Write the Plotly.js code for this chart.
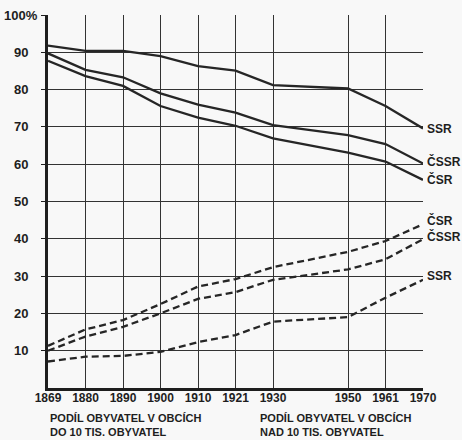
<!DOCTYPE html>
<html>
<head>
<meta charset="utf-8">
<script src="https://cdn.plot.ly/plotly-3.0.1.min.js"></script>
<style>html,body{margin:0;padding:0;background:#f8f8f8;}#chart{width:462px;height:440px;}</style>
</head>
<body>
<div id="chart"></div>
<script>
// Census years (tick labels)
var censusYears = [1869, 1880, 1890, 1900, 1910, 1921, 1930, 1950, 1961, 1970];
var yTickVals = [10, 20, 30, 40, 50, 60, 70, 80, 90, 100];
var yTickText = ['10', '20', '30', '40', '50', '60', '70', '80', '90', '100%'];

// Share of population in municipalities up to 10 thousand inhabitants (%)
var smallSSR  = [91.8, 90.4, 90.4, 89.0, 86.3, 85.1, 81.2, 80.3, 75.6, 69.6];
var smallCSSR = [89.7, 85.3, 83.3, 79.0, 76.0, 73.8, 70.5, 67.8, 65.4, 60.2];
var smallCSR  = [87.7, 83.6, 81.0, 75.6, 72.5, 70.3, 66.9, 63.1, 60.7, 55.8];

// Share of population in municipalities over 10 thousand inhabitants (%)
var largeCSR  = [11.3, 15.7, 18.2, 22.5, 27.2, 29.2, 32.4, 36.5, 39.4, 43.9];
var largeCSSR = [10.0, 13.8, 16.4, 20.0, 23.9, 25.7, 29.0, 31.8, 34.5, 39.9];
var largeSSR  = [7.1, 8.4, 8.6, 9.7, 12.3, 14.2, 17.8, 19.0, 24.2, 29.0];

// the chart places census years on an evenly spaced decade grid
var xPos = censusYears.map(function (y) { return Math.round(y / 10) * 10; });

var lineColor = '#262626';
function solid(vals, name) {
  return {x: xPos, y: vals, name: name, mode: 'lines', type: 'scatter',
          line: {color: lineColor, width: 2.3}, hoverinfo: 'skip'};
}
function dashed(vals, name) {
  return {x: xPos, y: vals, name: name, mode: 'lines', type: 'scatter',
          line: {color: lineColor, width: 2.3, dash: '7px,4px'}, hoverinfo: 'skip'};
}

var data = [
  solid(smallSSR, 'SSR'), solid(smallCSSR, 'ČSSR'), solid(smallCSR, 'ČSR'),
  dashed(largeCSR, 'ČSR'), dashed(largeCSSR, 'ČSSR'), dashed(largeSSR, 'SSR')
];

var font = 'Liberation Sans, Arial, sans-serif';
var textColor = '#1e1e1e';
var last = censusYears.length - 1;
function endLabel(text, vals, yshift) {
  return {x: xPos[last], y: vals[last], xref: 'x', yref: 'y', text: text,
          showarrow: false, xanchor: 'left', yanchor: 'middle', xshift: 2, yshift: yshift,
          font: {family: font, size: 12, color: textColor, weight: 'bold'}};
}

var annotations = [
  endLabel('SSR', smallSSR, -1),
  endLabel('ČSSR', smallCSSR, 2),
  endLabel('ČSR', smallCSR, 0),
  endLabel('ČSR', largeCSR, 4),
  endLabel('ČSSR', largeCSSR, 3),
  endLabel('SSR', largeSSR, 4),
  {x: 0, y: -0.058, xref: 'paper', yref: 'paper', xanchor: 'left', yanchor: 'top', align: 'left',
   showarrow: false, text: 'PODÍL OBYVATEL V OBCÍCH<br>DO 10 TIS. OBYVATEL',
   font: {family: font, size: 11, color: textColor, weight: 'bold'}},
  {x: 0.56, y: -0.058, xref: 'paper', yref: 'paper', xanchor: 'left', yanchor: 'top', align: 'left',
   showarrow: false, text: 'PODÍL OBYVATEL V OBCÍCH<br>NAD 10 TIS. OBYVATEL',
   font: {family: font, size: 11, color: textColor, weight: 'bold'}}
];

// y tick labels, set a little away from the axis as in the original
yTickVals.forEach(function (v, i) {
  annotations.push({x: -0.073, y: v, xref: 'paper', yref: 'y', text: yTickText[i],
    showarrow: false, xanchor: 'center', yanchor: 'middle',
    font: {family: font, size: 13, color: textColor, weight: 'bold'}});
});

var layout = {
  width: 462, height: 440,
  margin: {l: 48, r: 39, t: 15, b: 52},
  paper_bgcolor: '#f8f8f8', plot_bgcolor: '#f8f8f8',
  showlegend: false,
  font: {family: font, color: textColor},
  xaxis: {
    type: 'linear', range: [xPos[0], xPos[last]],
    tickvals: xPos, ticktext: censusYears.map(String),
    showgrid: true, gridcolor: '#333', gridwidth: 1,
    showline: true, linecolor: '#1e1e1e', linewidth: 3,
    ticks: '', zeroline: false, ticklabelstandoff: -3,
    tickfont: {family: font, size: 12, color: textColor, weight: 'bold'}
  },
  yaxis: {
    range: [0, 100], tickvals: yTickVals, showticklabels: false,
    showgrid: true, gridcolor: '#333', gridwidth: 1,
    showline: true, linecolor: '#1e1e1e', linewidth: 3,
    ticks: 'outside', ticklen: 4, tickcolor: '#1e1e1e', tickwidth: 1,
    zeroline: false
  },
  annotations: annotations
};

Plotly.newPlot('chart', data, layout, {staticPlot: true, displayModeBar: false});
</script>
</body>
</html>
